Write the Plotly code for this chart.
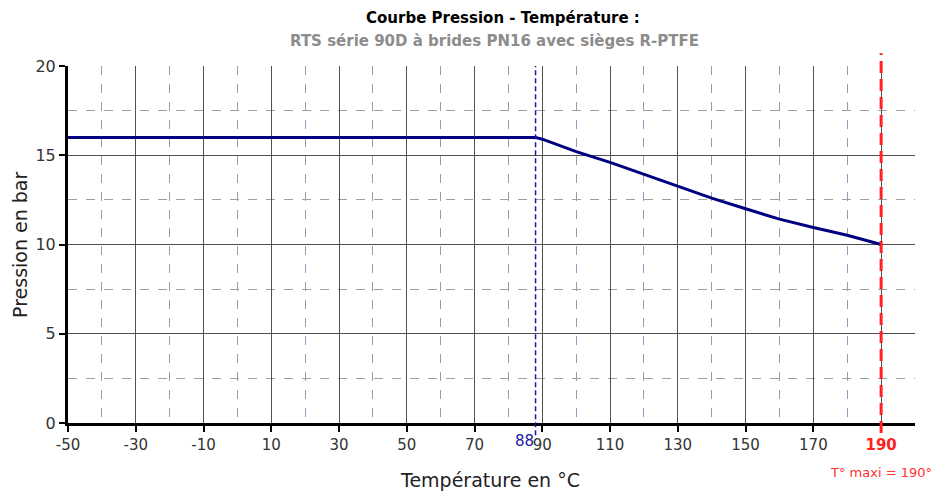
import plotly.graph_objects as go

# Data
temperature = [-50, 88, 90, 100, 110, 120, 130, 140, 150, 160, 170, 180, 190]
pressure = [16, 16, 15.9, 15.2, 14.6, 13.92, 13.25, 12.6, 12.0, 11.42, 10.95, 10.52, 10.0]

x_major_ticks = [-50, -30, -10, 10, 30, 50, 70, 90, 110, 130, 150, 170, 190]
x_minor_ticks = [-40, -20, 0, 20, 40, 60, 80, 100, 120, 140, 160, 180, 200]
y_major_ticks = [0, 5, 10, 15, 20]
y_minor_ticks = [2.5, 7.5, 12.5, 17.5]
t_limit = 88
t_max = 190

title = "Courbe Pression - Température :"
subtitle = "RTS série 90D à brides PN16 avec sièges R-PTFE"
x_title = "Température en °C"
y_title = "Pression en bar"
t_max_label = "T° maxi = 190°"

FONT = "DejaVu Sans"

x_ticktext = [str(v) for v in x_major_ticks]
x_ticktext[-1] = "<b><span style='color:#ff2020'>%d</span></b>" % t_max

fig = go.Figure()
fig.add_trace(go.Scatter(x=temperature, y=pressure, mode="lines",
                         line=dict(color="#000080", width=3),
                         hoverinfo="x+y", showlegend=False))

fig.update_layout(
    width=933, height=493,
    margin=dict(l=68, r=18, t=66, b=70),
    paper_bgcolor="white", plot_bgcolor="white",
    font=dict(family=FONT, size=14, color="#333333"),
    showlegend=False,
)

fig.update_xaxes(
    range=[-50, 200], tickmode="array", tickvals=x_major_ticks, ticktext=x_ticktext,
    showgrid=True, gridcolor="#505050", gridwidth=1,
    showline=True, linecolor="black", linewidth=3,
    ticks="outside", ticklen=6, tickwidth=2, tickcolor="black",
    zeroline=False,
    minor=dict(tickvals=x_minor_ticks, showgrid=True, gridcolor="#9a9ab8",
               griddash="dash", gridwidth=1, ticks=""),
    tickfont=dict(family=FONT, size=15, color="#333333"),
)
fig.update_yaxes(
    range=[0, 20], tickmode="array", tickvals=y_major_ticks,
    showgrid=True, gridcolor="#505050", gridwidth=1,
    showline=True, linecolor="black", linewidth=3,
    ticks="outside", ticklen=6, tickwidth=2, tickcolor="black",
    zeroline=False,
    minor=dict(tickvals=y_minor_ticks, showgrid=True, gridcolor="#a0a0a0",
               griddash="dash", gridwidth=1, ticks=""),
    tickfont=dict(family=FONT, size=16, color="#333333"),
)

# vertical markers
fig.add_shape(type="line", xref="x", yref="paper", x0=t_limit, x1=t_limit,
              y0=-0.034, y1=1, line=dict(color="#1414b4", width=1.5, dash="5px,3px"))
fig.add_shape(type="line", xref="x", yref="paper", x0=t_max, x1=t_max,
              y0=-0.028, y1=1.036, line=dict(color="#ff2020", width=3, dash="12px,6px"))

annotations = [
    dict(text="<b>%s</b>" % title, xref="paper", yref="paper", x=0.5136, y=1.134,
         showarrow=False, font=dict(family=FONT, size=15, color="black"),
         xanchor="center", yanchor="middle"),
    dict(text="<b>%s</b>" % subtitle, xref="paper", yref="paper", x=0.504, y=1.070,
         showarrow=False, font=dict(family=FONT, size=15, color="#8c8c8c"),
         xanchor="center", yanchor="middle"),
    dict(text=x_title, xref="paper", yref="paper", x=0.498, y=-0.16,
         showarrow=False, font=dict(family=FONT, size=19, color="#222222"),
         xanchor="center", yanchor="middle"),
    dict(text=y_title, xref="paper", yref="paper", x=-0.0567, y=0.4986, textangle=-90,
         showarrow=False, font=dict(family=FONT, size=19, color="#222222"),
         xanchor="center", yanchor="middle"),
    dict(text=str(t_limit), xref="x", yref="paper", x=t_limit, y=-0.05,
         showarrow=False, font=dict(family=FONT, size=15, color="#1a1aa0"),
         xanchor="right", yanchor="middle", xshift=0),
    dict(text=t_max_label, xref="x", yref="paper", x=t_max, y=-0.14,
         showarrow=False, font=dict(family=FONT, size=13, color="#ff3030"),
         xanchor="center", yanchor="middle"),
]
fig.update_layout(annotations=annotations)

fig.write_html("out.html")
